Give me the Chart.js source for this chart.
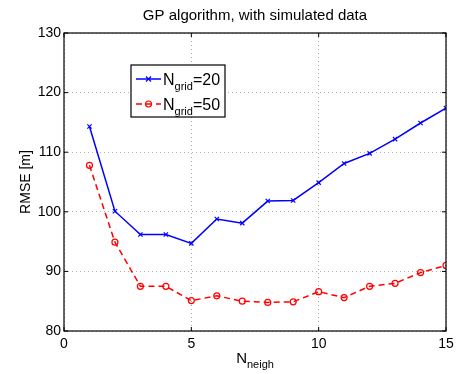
<!DOCTYPE html>
<html><head><meta charset="utf-8">
<script src="https://cdn.jsdelivr.net/npm/chart.js@4"></script>
<style>html,body{margin:0;padding:0;background:#fff}#wrap{width:461px;height:374px;position:relative}</style>
</head><body><div id="wrap"><canvas id="c" width="461" height="374"></canvas></div>
<script>
const nNeigh = [1,2,3,4,5,6,7,8,9,10,11,12,13,14,15];
const rmseGrid20 = [114.3,100.1,96.2,96.2,94.7,98.8,98.1,101.8,101.9,104.9,108.1,109.8,112.2,114.9,117.4];
const rmseGrid50 = [107.8,94.9,87.5,87.5,85.1,85.9,85.0,84.8,84.9,86.6,85.6,87.5,88.0,89.8,91.0];
const xTicks = [0,5,10,15];
const yTicks = [80,90,100,110,120,130];
const titleText = 'GP algorithm, with simulated data';
const seriesNames = [['N','grid','=20'],['N','grid','=50']];
const xLabel = ['N','neigh'];
const yLabel = 'RMSE [m]';

const FONT = '"Liberation Sans", Arial, sans-serif';

const deco = {
  id:'deco',
  afterDraw(chart){
    const {ctx, chartArea:a, scales:{x,y}} = chart;
    ctx.save();
    // frame
    ctx.strokeStyle='#000'; ctx.lineWidth=1.2; ctx.setLineDash([]);
    ctx.strokeRect(a.left, a.top, a.right-a.left, a.bottom-a.top);
    // inward ticks
    ctx.lineWidth=1;
    ctx.beginPath();
    xTicks.forEach(v=>{const px=x.getPixelForValue(v);
      ctx.moveTo(px,a.bottom);ctx.lineTo(px,a.bottom-4);
      ctx.moveTo(px,a.top);ctx.lineTo(px,a.top+4);});
    yTicks.forEach(v=>{const py=y.getPixelForValue(v);
      ctx.moveTo(a.left,py);ctx.lineTo(a.left+4,py);
      ctx.moveTo(a.right,py);ctx.lineTo(a.right-4,py);});
    ctx.stroke();
    // title
    ctx.fillStyle='#000';
    ctx.font='15px '+FONT; ctx.textAlign='center'; ctx.textBaseline='middle';
    ctx.fillText(titleText,(a.left+a.right)/2,16);
    // x label with subscript
    ctx.textAlign='left'; ctx.textBaseline='alphabetic';
    ctx.font='15px '+FONT; const w1=ctx.measureText(xLabel[0]).width;
    ctx.font='11px '+FONT; const w2=ctx.measureText(xLabel[1]).width;
    const sx=(a.left+a.right)/2-(w1+w2)/2;
    ctx.font='15px '+FONT; ctx.fillText(xLabel[0],sx,363);
    ctx.font='11px '+FONT; ctx.fillText(xLabel[1],sx+w1,368);
    // y label
    ctx.save(); ctx.translate(30,(a.top+a.bottom)/2); ctx.rotate(-Math.PI/2);
    ctx.font='14px '+FONT; ctx.textAlign='center'; ctx.textBaseline='alphabetic';
    ctx.fillText(yLabel,0,0); ctx.restore();
    // legend
    const lx=131, ly=65, lw=94, lh=52;
    ctx.fillStyle='#fff'; ctx.fillRect(lx,ly,lw,lh);
    ctx.strokeStyle='#000'; ctx.lineWidth=1.2; ctx.strokeRect(lx,ly,lw,lh);
    const rows=[79,104];
    chart.data.datasets.forEach((ds,i)=>{
      const yy=rows[i];
      ctx.strokeStyle=ds.borderColor; ctx.lineWidth=ds.borderWidth;
      ctx.setLineDash(ds.borderDash||[]);
      ctx.beginPath(); ctx.moveTo(136,yy); ctx.lineTo(161,yy); ctx.stroke();
      ctx.setLineDash([]);
      ctx.lineWidth=1.2;
      if(ds.pointStyle==='circle'){ctx.beginPath();ctx.arc(148.5,yy,3,0,Math.PI*2);ctx.stroke();}
      else {ctx.beginPath();ctx.moveTo(146,yy-2.5);ctx.lineTo(151,yy+2.5);ctx.moveTo(146,yy+2.5);ctx.lineTo(151,yy-2.5);ctx.stroke();}
      const parts=seriesNames[i];
      ctx.fillStyle='#000'; ctx.textAlign='left';
      ctx.font='16px '+FONT; let tx=163; ctx.fillText(parts[0],tx,yy+6); tx+=ctx.measureText(parts[0]).width;
      ctx.font='11px '+FONT; ctx.fillText(parts[1],tx,yy+11); tx+=ctx.measureText(parts[1]).width;
      ctx.font='16px '+FONT; ctx.fillText(parts[2],tx,yy+6);
    });
    ctx.restore();
  }
};

new Chart(document.getElementById('c'),{
  type:'line',
  data:{datasets:[
    {label:'N_grid=20',data:nNeigh.map((v,i)=>({x:v,y:rmseGrid20[i]})),borderColor:'#0000ff',backgroundColor:'#0000ff',
     borderWidth:1.5,pointStyle:'crossRot',pointRadius:3,pointBorderWidth:1.2,tension:0},
    {label:'N_grid=50',data:nNeigh.map((v,i)=>({x:v,y:rmseGrid50[i]})),borderColor:'#ff0000',backgroundColor:'rgba(0,0,0,0)',
     borderWidth:1.5,borderDash:[6,4],pointStyle:'circle',pointRadius:3,pointBorderWidth:1.2,tension:0}
  ]},
  options:{
    responsive:false,animation:false,devicePixelRatio:1,
    layout:{padding:{top:33,right:15,left:0,bottom:0}},
    plugins:{legend:{display:false},title:{display:false},tooltip:{enabled:false}},
    scales:{
      x:{type:'linear',min:0,max:15,
        afterBuildTicks(s){s.ticks=xTicks.map(v=>({value:v}));},
        afterFit(s){s.height=43;},
        grid:{color:'#b0b0b0',lineWidth:1,drawTicks:false},
        border:{display:false,dash:[1,3]},
        ticks:{color:'#000',font:{family:FONT,size:14},padding:5,maxRotation:0}},
      y:{min:80,max:130,
        afterBuildTicks(s){s.ticks=yTicks.map(v=>({value:v}));},
        afterFit(s){s.width=64;},
        grid:{color:'#b0b0b0',lineWidth:1,drawTicks:false},
        border:{display:false,dash:[1,3]},
        ticks:{color:'#000',font:{family:FONT,size:14},padding:3}}
    }
  },
  plugins:[deco]
});
</script></body></html>
